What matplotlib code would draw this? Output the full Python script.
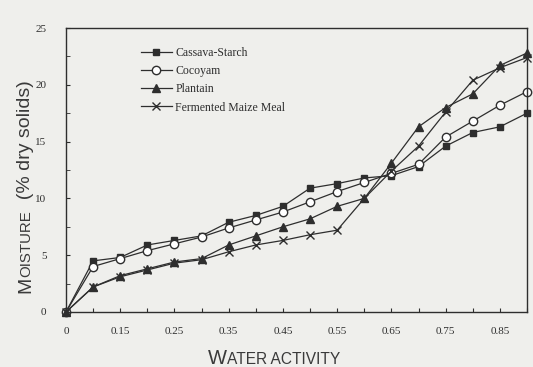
import matplotlib
matplotlib.use("Agg")
from matplotlib import pyplot as plt
from matplotlib.transforms import offset_copy
from matplotlib.ticker import MultipleLocator

# water activity steps (drawn evenly spaced, as in the original figure)
water_activity = ["0", "0.1", "0.15", "0.2", "0.25", "0.3", "0.35", "0.4", "0.45",
                  "0.5", "0.55", "0.6", "0.65", "0.7", "0.75", "0.8", "0.85", "0.9"]

cassava = [0, 4.5, 4.8, 5.9, 6.3, 6.7, 7.9, 8.5, 9.3, 10.9, 11.3, 11.8, 12.0, 12.8, 14.6, 15.8, 16.3, 17.5]
cocoyam = [0, 4.0, 4.7, 5.4, 6.0, 6.6, 7.4, 8.1, 8.8, 9.7, 10.6, 11.4, 12.2, 13.0, 15.4, 16.8, 18.2, 19.4]
plantain = [0, 2.2, 3.2, 3.8, 4.4, 4.7, 5.9, 6.7, 7.5, 8.2, 9.3, 10.0, 13.1, 16.3, 18.0, 19.2, 21.7, 22.8]
maize = [0, 2.2, 3.1, 3.7, 4.3, 4.6, 5.3, 5.9, 6.3, 6.8, 7.2, 10.0, 12.4, 14.6, 17.6, 20.4, 21.5, 22.4]

series_names = ["Cassava-Starch", "Cocoyam", "Plantain", "Fermented Maize Meal"]
shown_labels = ["0", "0.15", "0.25", "0.35", "0.45", "0.55", "0.65", "0.75", "0.85"]

ink = "#2e2e2e"
paper = "#efefec"


def caps_text(fig, x, y, parts, rotation=0):
    # draw text pieces one after another (fake small caps)
    renderer = fig.canvas.get_renderer()
    trans = fig.transFigure
    for s, size in parts:
        t = fig.text(x, y, s, transform=trans, fontsize=size, rotation=rotation,
                     family="Liberation Sans", color="#3a3a3a", va="baseline", ha="left",
                     rotation_mode="anchor")
        t.draw(renderer)
        ex = t.get_window_extent(renderer)
        if rotation == 90:
            trans = offset_copy(t.get_transform(), fig=fig, y=ex.height, units="dots")
        else:
            trans = offset_copy(t.get_transform(), fig=fig, x=ex.width, units="dots")


fig = plt.figure(figsize=(5.33, 3.67), dpi=100, facecolor=paper)
ax = fig.add_axes([0.1238, 0.1499, 0.8649, 0.7738], facecolor=paper)

xs = list(range(len(water_activity)))
styles = [
    dict(marker="s", markerfacecolor=ink, markersize=5),
    dict(marker="o", markerfacecolor="white", markersize=6),
    dict(marker="^", markerfacecolor=ink, markersize=5.5),
    dict(marker="x", markersize=6, markeredgewidth=1.0),
]
for data, name, st in zip([cassava, cocoyam, plantain, maize], series_names, styles):
    ax.plot(xs, data, color=ink, linewidth=0.9, markeredgecolor=ink, clip_on=False,
            label=name, **st)

ax.set_xlim(0, len(water_activity) - 1)
ax.set_ylim(0, 25)
ax.set_xticks(xs)
ax.set_xticklabels([w if w in shown_labels else "" for w in water_activity])
ax.yaxis.set_major_locator(MultipleLocator(5))
ax.yaxis.set_minor_locator(MultipleLocator(2.5))
ax.tick_params(axis="x", direction="in", length=3, pad=11, labelsize=8, colors=ink)
ax.tick_params(axis="y", which="both", direction="in", length=3, pad=14, labelsize=8, colors=ink)
for lab in ax.get_xticklabels() + ax.get_yticklabels():
    lab.set_family("Liberation Serif")
for sp in ax.spines.values():
    sp.set_color(ink)
    sp.set_linewidth(1.0)

leg = ax.legend(loc="upper left", bbox_to_anchor=(0.14, 0.97), frameon=False,
                prop={"family": "Liberation Serif", "size": 8.5}, handlelength=2.6,
                handletextpad=0.3, labelspacing=0.52)
for txt in leg.get_texts():
    txt.set_color(ink)

caps_text(fig, 0.057, 0.2016, [("M", 14), ("OISTURE", 10.8), ("  (% dry solids)", 14)], rotation=90)
caps_text(fig, 0.39, 0.008, [("W", 14.5), ("ATER ACTIVITY", 11.2)])

fig.savefig("out.png", dpi=100, facecolor=paper)
